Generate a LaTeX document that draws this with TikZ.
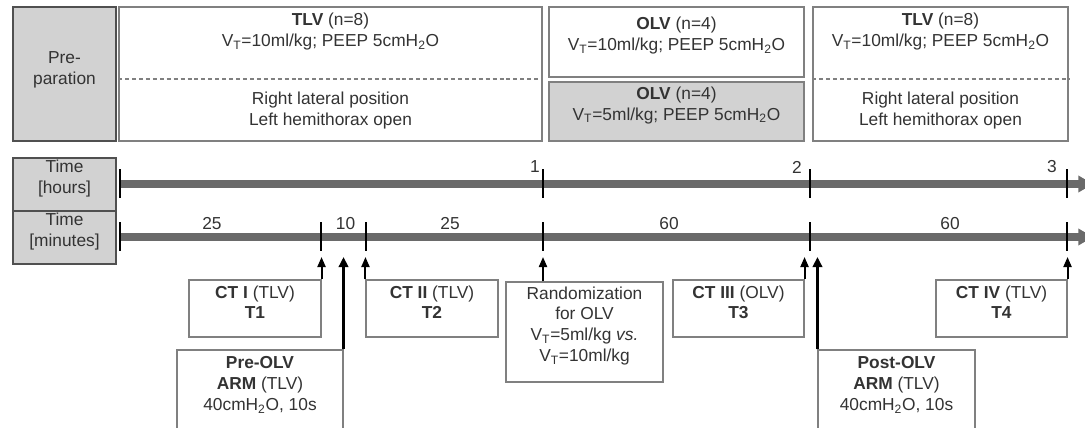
\documentclass[tikz,border=0pt]{standalone}
\usepackage{fontspec}
\setmainfont{Liberation Sans}
\usetikzlibrary{arrows.meta,fit}
\definecolor{txt}{HTML}{333333}
\definecolor{boxgray}{HTML}{D2D2D2}
\definecolor{edge}{HTML}{808080}
\definecolor{darkedge}{HTML}{505050}
\definecolor{barcol}{HTML}{6A6A6A}
\begin{document}
\begin{tikzpicture}[x=0.75pt,y=-0.75pt,
  every node/.style={font=\fontsize{13}{15.5}\selectfont, text=txt, align=center, inner sep=0pt},
  topbox/.style={draw=edge, line width=1.2pt, fill=white},
  graybox/.style={draw=edge, line width=1.2pt, fill=boxgray},
  labelbox/.style={draw=darkedge, line width=1.6pt, fill=boxgray},
  evbox/.style={draw=edge, line width=0.8pt, fill=white},
  sep/.style={draw=edge, line width=0.8pt, dash pattern=on 3pt off 2.2pt},
  axis/.style={line width=5.5pt, draw=barcol, -{Triangle[length=11pt,width=12pt]}},
  tickmark/.style={line width=1.6pt, draw=black},
  evarrow/.style={line width=1.5pt, draw=black, -{Triangle[length=7.5pt,width=6pt]}},
  bigarrow/.style={line width=2.3pt, draw=black, -{Triangle[length=7.5pt,width=7pt]}},
  ticklabel/.style={font=\fontsize{13}{15.5}\selectfont}
]
\useasboundingbox (0,0) rectangle (1085,428);
\clip (0,0) rectangle (1085,428);

% ---- top row ----
\node[labelbox, fit={(13,7) (116,141)}] (prep) {};
\node (preptxt) at (64.5,70) {Pre-\\paration};

\node[topbox, fit={(119,7) (542,141)}] (tlvA) {};
\draw[sep] (tlvA.west |- 0,79) coordinate (sA1) -- (tlvA.east |- 0,79) coordinate (sA2);
\node (tlvAt) at (330.5,31.5) {\textbf{TLV} (n=8)\\V\textsubscript{T}=10ml/kg; PEEP 5cmH\textsubscript{2}O};
\node (tlvAb) at (330.5,110.5) {Right lateral position\\Left hemithorax open};

\node[topbox, fit={(549,7) (804,77)}] (olvA) {\textbf{OLV} (n=4)\\V\textsubscript{T}=10ml/kg; PEEP 5cmH\textsubscript{2}O};
\node[graybox, fit={(549,82) (804,141)}] (olvB) {\textbf{OLV} (n=4)\\V\textsubscript{T}=5ml/kg; PEEP 5cmH\textsubscript{2}O};

\node[topbox, fit={(813,7) (1068,141)}] (tlvB) {};
\draw[sep] (tlvB.west |- 0,79) coordinate (sB1) -- (tlvB.east |- 0,79) coordinate (sB2);
\node (tlvBt) at (940.5,31.5) {\textbf{TLV} (n=8)\\V\textsubscript{T}=10ml/kg; PEEP 5cmH\textsubscript{2}O};
\node (tlvBb) at (940.5,110.5) {Right lateral position\\Left hemithorax open};

% ---- time axes ----
\node[labelbox, fit={(13,158) (116,211)}] (hours) {Time\\{[}hours{]}};
\node[labelbox, fit={(13,211) (116,264)}] (minutes) {Time\\{[}minutes{]}};

\coordinate (h0) at (120,184);
\coordinate (hend) at (1093,184);
\coordinate (m0) at (120,237);
\coordinate (mend) at (1093,237);
\draw[axis] (h0) -- (hend);
\draw[axis] (m0) -- (mend);

% hour ticks
\foreach \x/\n in {120/h0t,543/h1t,810/h2t,1067/h3t}{
  \draw[tickmark] (\x,169) -- (\x,198);
  \coordinate (\n) at (\x,184);
}
% minute ticks
\foreach \x/\n in {120/m0t,321/m25,366/m35,543/m60,810/m120,1067/m180}{
  \draw[tickmark] (\x,222) -- (\x,251);
  \coordinate (\n) at (\x,237);
}
\node[ticklabel] (l1) at (535,167) {1};
\node[ticklabel] (l2) at (797,167) {2};
\node[ticklabel] (l3) at (1052,167) {3};
\node[ticklabel] (d1) at (212,224) {25};
\node[ticklabel] (d2) at (345.5,224) {10};
\node[ticklabel] (d3) at (450,224) {25};
\node[ticklabel] (d4) at (669,224) {60};
\node[ticklabel] (d5) at (950,224) {60};

% ---- events ----
\node[evbox, fit={(189,280) (321,337)}] (ct1) {\textbf{CT I} (TLV)\\\textbf{T1}};
\node[evbox, fit={(366,280) (498,337)}] (ct2) {\textbf{CT II} (TLV)\\\textbf{T2}};
\node[evbox, fit={(506,282) (663,382)}] (rand) {Randomization\\for OLV\\V\textsubscript{T}=5ml/kg \textit{vs.}\\V\textsubscript{T}=10ml/kg};
\node[evbox, fit={(673,280) (804,337)}] (ct3) {\textbf{CT III} (OLV)\\\textbf{T3}};
\node[evbox, fit={(936,280) (1067,337)}] (ct4) {\textbf{CT IV} (TLV)\\\textbf{T4}};
\node[evbox, fit={(177,350) (343,432)}] (pre) {\textbf{Pre-OLV}\\\textbf{ARM} (TLV)\\40cmH\textsubscript{2}O, 10s};
\node[evbox, fit={(818,350) (975,432)}] (post) {\textbf{Post-OLV}\\\textbf{ARM} (TLV)\\40cmH\textsubscript{2}O, 10s};

\coordinate (tipy) at (0,257);
\draw[evarrow] (ct1.north east) -- (ct1.north east |- tipy);
\draw[evarrow] (ct2.north west) -- (ct2.north west |- tipy);
\draw[evarrow] (rand.north -| m60) -- (m60 |- tipy);
\draw[evarrow] (ct3.north east) -- (ct3.north east |- tipy);
\draw[evarrow] (ct4.north east) -- (ct4.north east |- tipy);
\draw[bigarrow] (pre.north east) -- (pre.north east |- tipy);
\draw[bigarrow] (post.north west) -- (post.north west |- tipy);
\end{tikzpicture}
\end{document}
